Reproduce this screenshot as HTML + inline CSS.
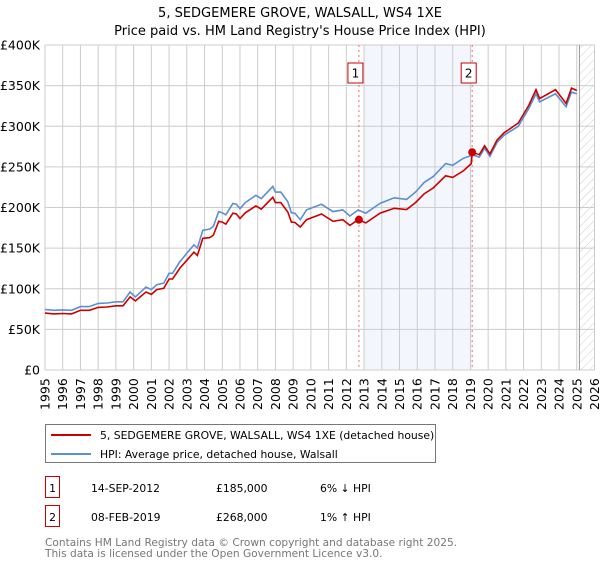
<!DOCTYPE html>
<html><head><meta charset="utf-8"><style>
body{margin:0;background:#fff;font-family:"Liberation Sans","DejaVu Sans",sans-serif;}
svg text{font-family:"DejaVu Sans","Liberation Sans",sans-serif;}
</style></head><body>
<svg id="chart" width="600" height="560" xmlns="http://www.w3.org/2000/svg">
<text x="300" y="17" text-anchor="middle" font-size="13">5, SEDGEMERE GROVE, WALSALL, WS4 1XE</text>
<text x="300" y="35" text-anchor="middle" font-size="13">Price paid vs. HM Land Registry's House Price Index (HPI)</text>
<defs><pattern id="hatch" width="6" height="6" patternUnits="userSpaceOnUse" patternTransform="rotate(45)"><line x1="0" y1="0" x2="0" y2="6" stroke="#ccc" stroke-width="1"/></pattern></defs>
<g id="plot"></g>
<g>
<rect x="45.5" y="424.5" width="390" height="38" fill="#fff" stroke="#777"/>
<line x1="51" y1="435" x2="91" y2="435" stroke="#cc0000" stroke-width="2"/>
<text x="100" y="439" font-size="10.8">5, SEDGEMERE GROVE, WALSALL, WS4 1XE (detached house)</text>
<line x1="51" y1="454" x2="91" y2="454" stroke="#5b8fd0" stroke-width="2"/>
<text x="100" y="458" font-size="10.8">HPI: Average price, detached house, Walsall</text>
</g>
<g font-size="10.8">
<rect x="45.5" y="476.5" width="14" height="21" fill="#fff" stroke="#cc0000"/>
<text x="52.5" y="492" text-anchor="middle">1</text>
<text x="91" y="492">14-SEP-2012</text><text x="216" y="492">£185,000</text><text x="320" y="492">6% ↓ HPI</text>
<rect x="45.5" y="505.5" width="14" height="21" fill="#fff" stroke="#cc0000"/>
<text x="52.5" y="521" text-anchor="middle">2</text>
<text x="91" y="521">08-FEB-2019</text><text x="216" y="521">£268,000</text><text x="320" y="521">1% ↑ HPI</text>
</g>
<text x="45" y="546" font-size="10.6" fill="#777">Contains HM Land Registry data © Crown copyright and database right 2025.</text>
<text x="45" y="557" font-size="10.6" fill="#777">This data is licensed under the Open Government Licence v3.0.</text>
</svg>
<script>
const years=[1995.0,1995.5,1996.0,1996.5,1997.0,1997.5,1998.0,1998.5,1999.0,1999.4,1999.8,2000.1,2000.7,2001.0,2001.3,2001.7,2002.0,2002.2,2002.6,2003.0,2003.4,2003.6,2003.9,2004.3,2004.5,2004.8,2005.0,2005.2,2005.6,2005.8,2006.0,2006.3,2006.9,2007.2,2007.85,2008.0,2008.3,2008.7,2008.9,2009.1,2009.4,2009.75,2010.6,2011.25,2011.8,2012.2,2012.67,2013.1,2013.9,2014.7,2015.4,2015.9,2016.4,2016.9,2017.6,2018.0,2018.6,2019.05,2019.1,2019.5,2019.8,2020.1,2020.5,2020.9,2021.7,2022.3,2022.7,2022.9,2023.8,2024.4,2024.7,2025.0];
const hpi=[74.5,73.5,74,73.5,78,78,82,82.5,84,84,96,90,102,99,105,107,119,119,133,143.6,154,150,172,173.5,177,195,193.5,191,205,204,198.5,206,215,211,226,219,219,207,193.5,193,185,197,204,195,197,189.6,197,193,205,212,210,219,231,238,254,252,260.5,264,265,262,273,263,280,289,300,322,340,330,340,324,342,340];
const price=[70,69,69.5,69,73.5,73.5,77,77.5,79,79,90,85,96,93,99,100.5,112,112,125,135,145,141,162,163,166,183,182,179.5,193,192,186.5,193.5,202,198,212.5,206,206,194.5,182,181.5,176,185,192,183,185,178,185,181,193,199,197.5,206,217,224,239,237,245,254,268,265,276,266,283,292,304,326,345,334,345,328,347,344];
const saleYears=[2012.71,2019.1];
const saleValues=[185,268];
const yTicks=[0,50,100,150,200,250,300,350,400];
const yTickLabels=["£0","£50K","£100K","£150K","£200K","£250K","£300K","£350K","£400K"];
const xTicks=[1995,1996,1997,1998,1999,2000,2001,2002,2003,2004,2005,2006,2007,2008,2009,2010,2011,2012,2013,2014,2015,2016,2017,2018,2019,2020,2021,2022,2023,2024,2025,2026];
const X0=45,X1=594.5,Y0=370,Y1=45;
const xs=y=>X0+(y-1995)/(2026-1995)*(X1-X0);
const ys=v=>Y0-v/400*(Y0-Y1);
const NS="http://www.w3.org/2000/svg";
const g=document.getElementById('plot');
function mk(t,a,p){const e=document.createElementNS(NS,t);for(const k in a)e.setAttribute(k,a[k]);(p||g).appendChild(e);return e;}
let r=mk('rect',{x:xs(2013),y:Y1,width:xs(2019.1)-xs(2013),height:Y0-Y1,fill:'#eef3fc',opacity:0.7});


let h=mk('rect',{x:xs(2025.15),y:Y1,width:X1-xs(2025.15),height:Y0-Y1,fill:'url(#hatch)'});


xTicks.forEach((t,i)=>{
 let l=mk('line',{x1:xs(t),x2:xs(t),y1:Y1,y2:Y0,stroke:'#cccccc'});
 
 
 let tx=mk('text',{x:0,y:0,'font-size':'12.5',transform:`translate(${xs(t)+4.5},${Y0+40}) rotate(-90)`});
 tx.textContent=t;
 
 
});
yTicks.forEach((t,i)=>{
 let l=mk('line',{x1:X0,x2:X1,y1:ys(t),y2:ys(t),stroke:'#cccccc'});
 
 
 let tx=mk('text',{x:40,y:ys(t)+4.5,'text-anchor':'end','font-size':'12.5'});
 tx.textContent=yTickLabels[i];
 
 
});
let ed=mk('line',{x1:xs(2025.15),x2:xs(2025.15),y1:Y1,y2:Y0,stroke:'#999'});


saleYears.forEach((s,i)=>{
 let l=mk('line',{x1:xs(s),x2:xs(s),y1:Y1,y2:Y0,stroke:'#ff6666','stroke-dasharray':'2,3'});
 
 
});
const pts=arr=>arr.map((v,i)=>xs(years[i]).toFixed(1)+','+ys(v).toFixed(1)).join(' ');
let hl=mk('polyline',{points:pts(hpi),fill:'none',stroke:'#5b8fd0','stroke-width':1.6});


let pl=mk('polyline',{points:pts(price),fill:'none',stroke:'#cc0000','stroke-width':1.6});


saleYears.forEach((s,i)=>{
 let c=mk('circle',{cx:xs(s),cy:ys(saleValues[i]),r:4,fill:'#cc0000'});
 
 
 let b=mk('rect',{x:xs(s)-11,y:63,width:15,height:20,fill:'#fff',stroke:'#cc0000'});
 
 
 let t=mk('text',{x:xs(s)-3.5,y:77.5,'text-anchor':'middle','font-size':'12'});
 t.textContent=String(i+1);
 
 
});
</script>
</body></html>
